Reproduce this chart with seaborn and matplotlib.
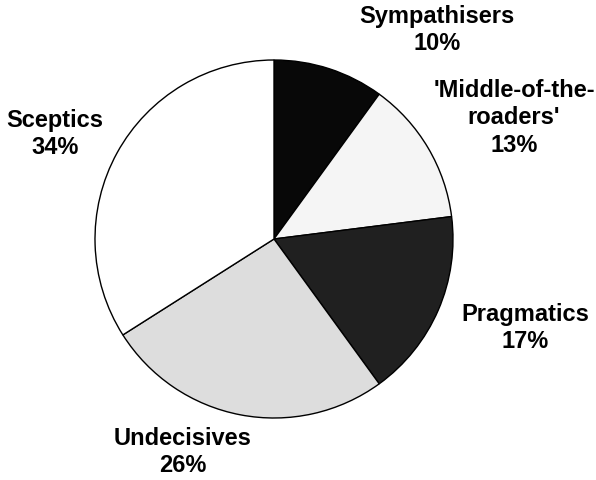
import matplotlib
matplotlib.use("Agg")
import matplotlib.pyplot as plt
import seaborn as sns

# Data
groups = ["Sympathisers", "'Middle-of-the-\nroaders'", "Pragmatics", "Undecisives", "Sceptics"]
shares = [10, 13, 17, 26, 34]
colors = ["#080808", "#f5f5f5", "#202020", "#dddddd", "#ffffff"]

sns.set_style("white")
plt.rcParams['font.family'] = ['Liberation Sans', 'DejaVu Sans']

fig = plt.figure(figsize=(5.96, 4.81), dpi=100)
ax = fig.add_axes([0, 0, 1, 1])

# pie drawn in pixel-like coordinates (y axis inverted -> counterclock=True gives clockwise on screen)
ax.pie(shares, colors=colors, startangle=-90, counterclock=True,
       center=(274, 240), radius=179, frame=True,
       wedgeprops=dict(edgecolor='black', linewidth=1.0))
ax.set_xlim(0, 596)
ax.set_ylim(481, 0)
ax.set_aspect('equal')
ax.axis('off')

# label positions (centre of each text block)
label_pos = [(437, 30), (514, 118), (525, 328), (183, 452), (55, 134)]
for name, val, (x, y) in zip(groups, shares, label_pos):
    ax.text(x, y, f"{name}\n{val}%", ha='center', va='center', color='black',
            fontsize=17, fontweight='bold', linespacing=1.25)

fig.savefig("out.png", dpi=100)
